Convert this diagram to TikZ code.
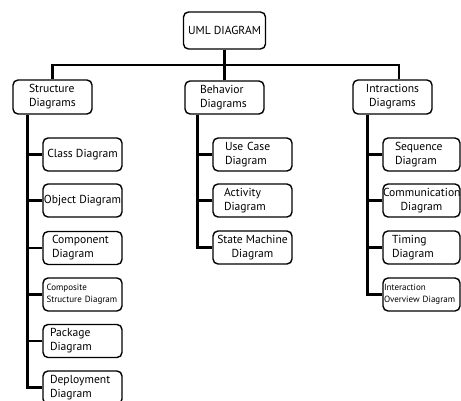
\documentclass[tikz,border=0pt]{standalone}
\usepackage{fontspec}
\setmainfont{PT Sans}
\begin{document}
\begin{tikzpicture}[x=1pt,y=-1pt,
  box/.style={draw, line width=1.4pt, rounded corners=5pt, minimum width=79pt,
    minimum height=33pt, inner sep=0pt, align=center,
    font=\fontsize{11.6}{14}\selectfont},
  lbox/.style 2 args={box, align=left, inner xsep=#1, text width=#2},
  small/.style={font=\fontsize{9}{12}\selectfont},
  link/.style={line width=2.6pt}]
\useasboundingbox (0,0) rectangle (461,400);

% root
\node[box, minimum width=82pt, minimum height=37pt] (uml) at (224.5,30.5) {UML DIAGRAM};

% three families
\node[lbox={16pt}{47pt}, minimum height=34pt] (struct) at (52.5,97) {Structure\\Diagrams};
\node[lbox={15pt}{49pt}] (behav) at (224.5,97.5) {Behavior\\Diagrams};
\node[box, minimum height=34pt] (inter) at (392.5,97) {Intractions\\Diagrams};

% structure diagrams
\node[box] (class) at (82.5,154.5) {Class Diagram};
\node[box] (object) at (82.5,200.5) {Object Diagram};
\node[lbox={9pt}{61pt}] (component) at (82.5,248) {Component\\Diagram};
\node[lbox={3.5pt}{72pt}, small] (composite) at (82.5,294.5) {Composite\\Structure Diagram};
\node[lbox={7pt}{65pt}] (package) at (82.5,341) {Package\\Diagram};
\node[lbox={7pt}{65pt}] (deploy) at (82.5,387.5) {Deployment\\Diagram};

% behavior diagrams
\node[lbox={12pt}{55pt}] (usecase) at (252.5,154.5) {Use Case\\Diagram};
\node[lbox={11pt}{57pt}] (activity) at (252.5,200.5) {Activity\\Diagram};
\node[box] (state) at (252.5,247.5) {State Machine\\Diagram};

% interaction diagrams
\node[lbox={12pt}{53pt}, minimum width=77pt] (sequence) at (421.5,154.5) {Sequence\\Diagram};
\node[box, text width=77pt, minimum width=77pt] (comm) at (421.5,200.5) {Communication\\Diagram};
\node[lbox={9pt}{59pt}, minimum width=77pt] (timing) at (421.5,247.5) {Timing\\Diagram};
\node[lbox={1pt}{75pt}, minimum width=77pt, small] (overview) at (421.5,294.5) {Interaction\\Overview Diagram};

% top level connectors
\coordinate (bus) at (225,65);
\draw[link] (uml) -- (behav);
\draw[link] (struct.north) |- (bus) -| ([xshift=6.5pt]inter.north);

% trunks
\coordinate (sT) at ([xshift=15pt]struct.south west);
\coordinate (bT) at ([xshift=13pt]behav.south west);
\coordinate (iT) at ([xshift=15pt]inter.south west);

\draw[link] (sT) |- (deploy.west);
\foreach \c in {class,object,component,composite,package}
  \draw[link] (\c.west) -- (\c.west -| sT);

\draw[link] (bT) |- (state.west);
\foreach \c in {usecase,activity}
  \draw[link] (\c.west) -- (\c.west -| bT);

\draw[link] (iT) |- (overview.west);
\foreach \c in {sequence,comm,timing}
  \draw[link] (\c.west) -- (\c.west -| iT);
\end{tikzpicture}
\end{document}
